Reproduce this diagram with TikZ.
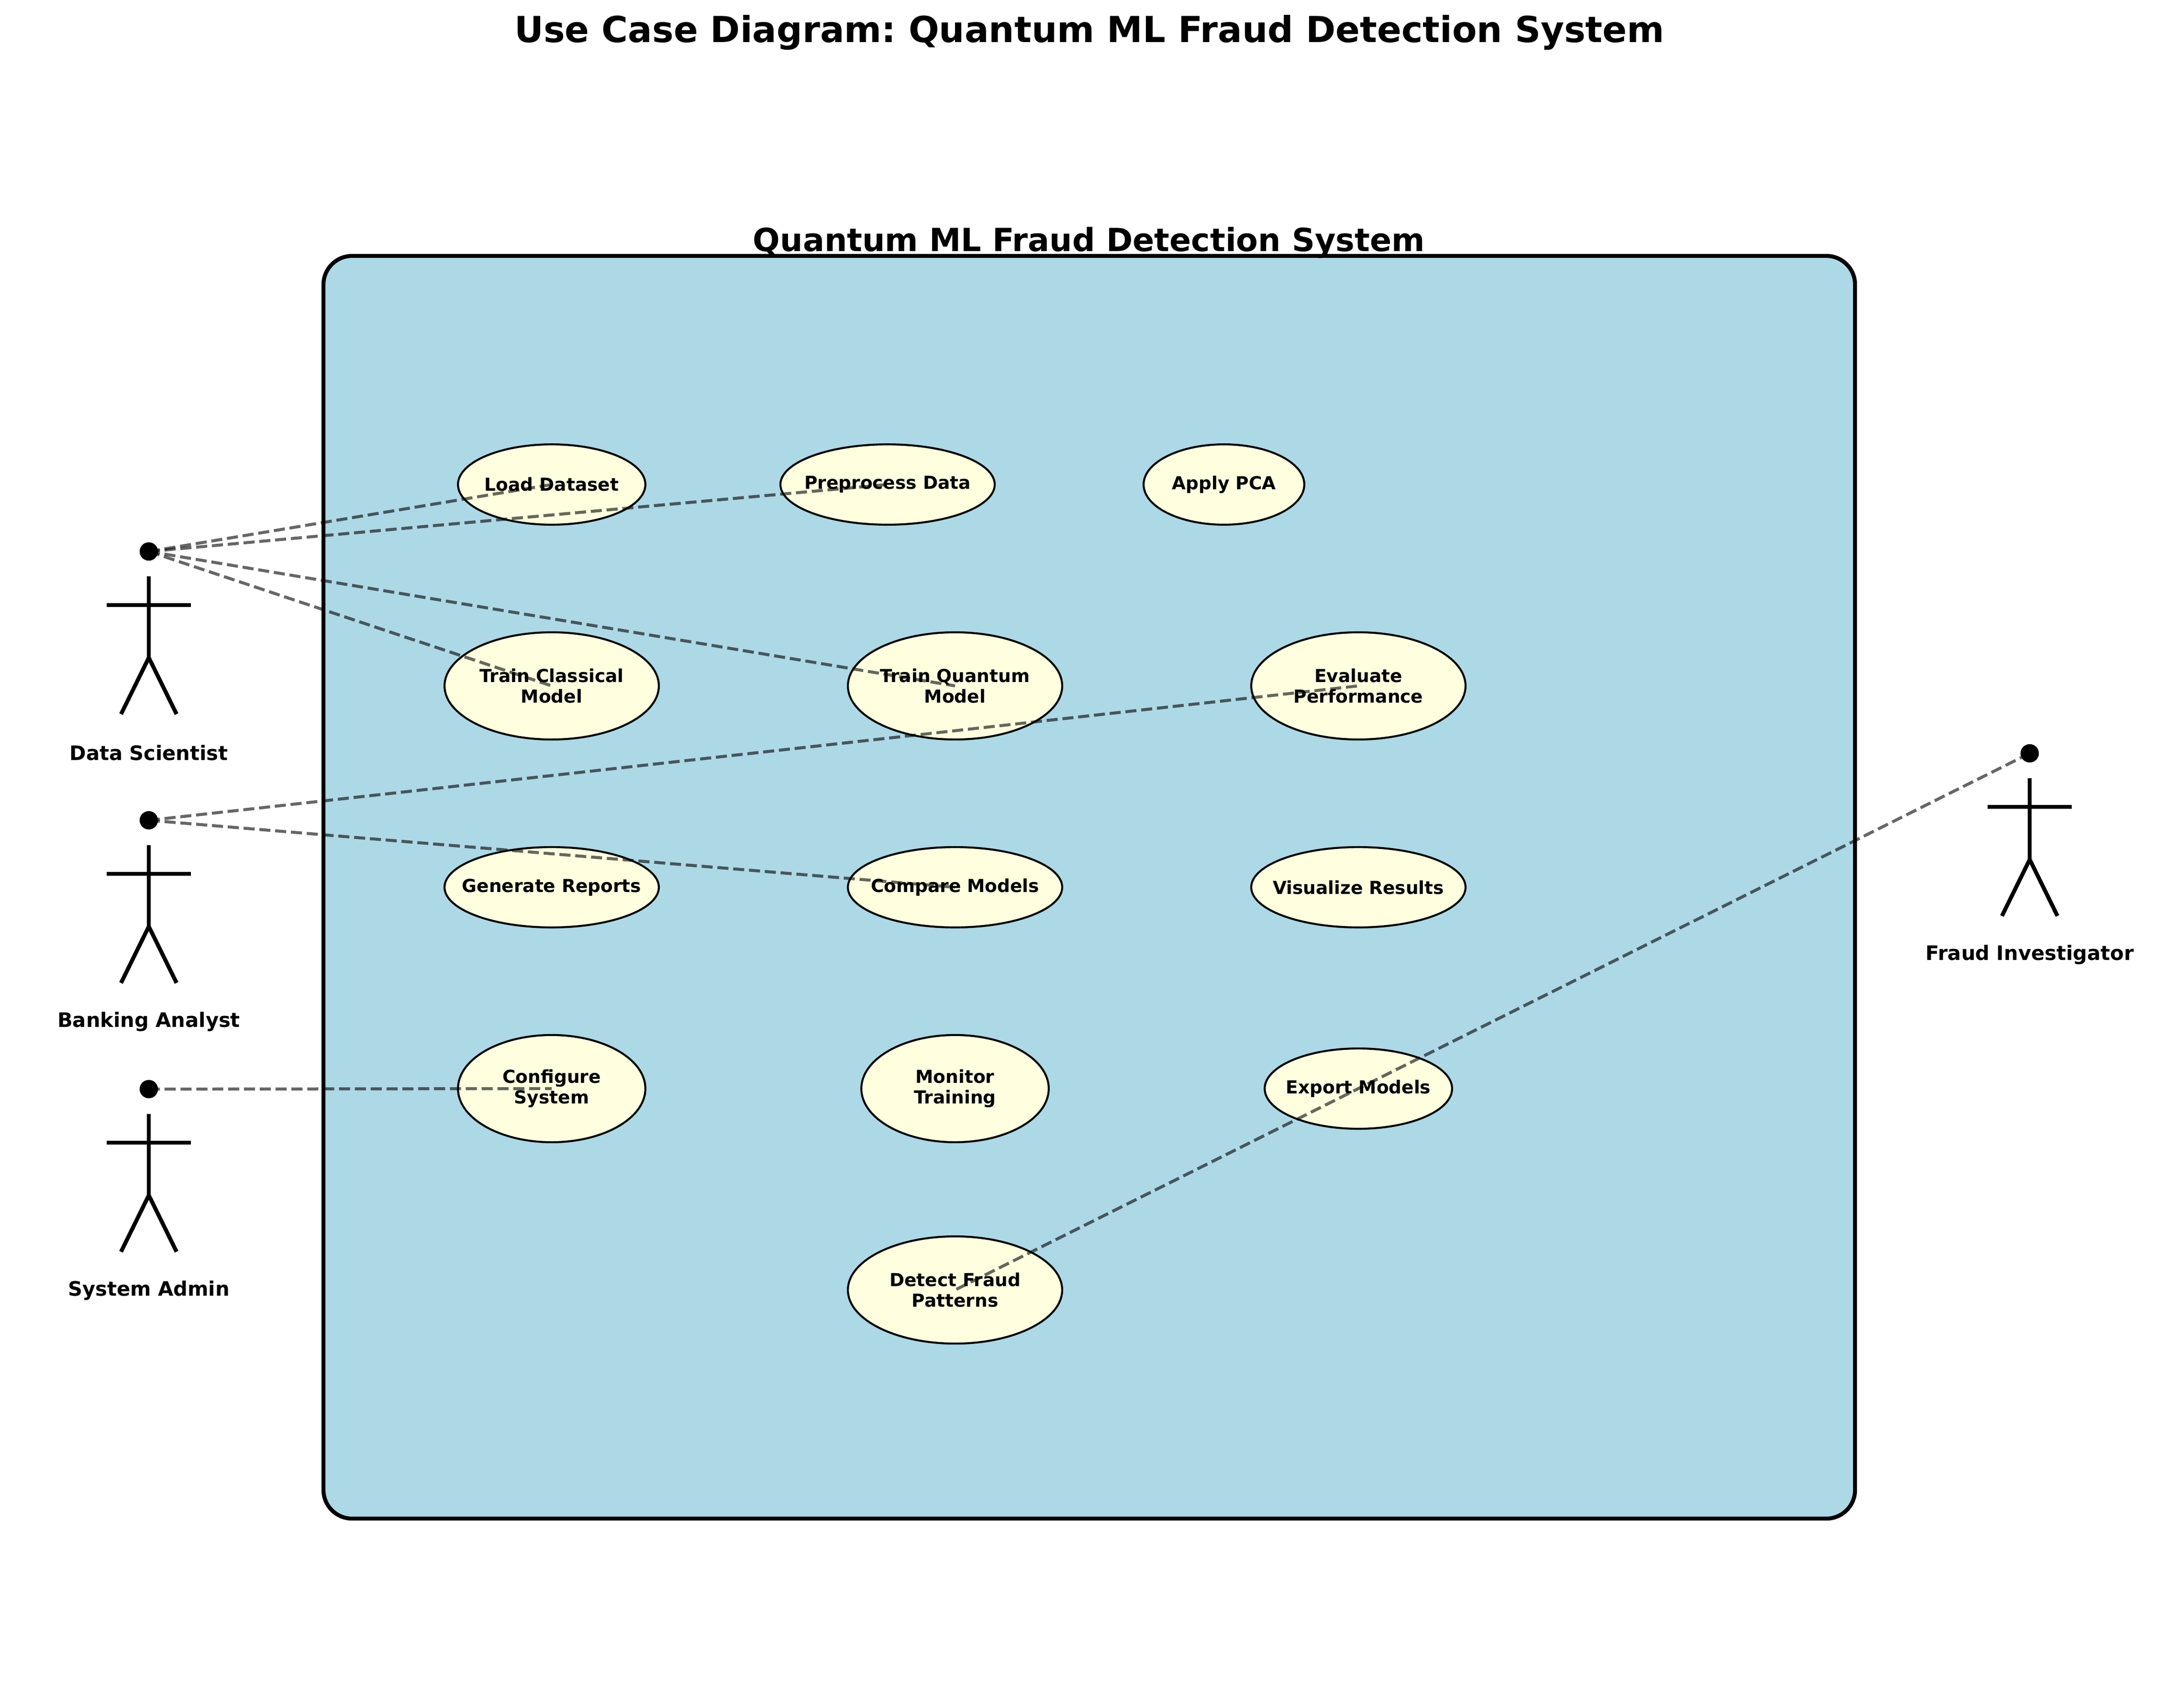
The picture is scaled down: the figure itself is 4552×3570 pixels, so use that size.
\documentclass[tikz,border=0pt]{standalone}
\usepackage{fontspec}
\setmainfont{DejaVu Sans}
\usetikzlibrary{shapes.geometric}
\definecolor{sysblue}{HTML}{ADD8E6}
\definecolor{ucyellow}{HTML}{FFFFE0}
\tikzset{
  sysbox/.style={draw=black,fill=sysblue,line width=2pt,rounded corners=14.4pt},
  uc/.style={ellipse,draw=black,fill=ucyellow,line width=1pt,inner sep=0pt,outer sep=0pt},
  ucw/.style={minimum width=107.5pt},
  ucm/.style={minimum width=94pt},
  ucn/.style={minimum width=80.6pt},
  ucs/.style={minimum height=40.3pt},
  uct/.style={minimum height=53.8pt},
  uctext/.style={font=\fontsize{9}{10.2}\selectfont\bfseries,align=center,inner sep=0pt},
  actortext/.style={font=\fontsize{10}{12}\selectfont\bfseries,inner sep=0pt},
  actorhead/.style={circle,fill=black,inner sep=0pt,minimum size=9.2pt,outer sep=0pt},
  limb/.style={draw=black,line width=2pt},
  assoc/.style={draw=black,opacity=0.6,line width=1.5pt,dash pattern=on 5.55pt off 2.4pt},
}
\newcommand{\actorbody}[3]{%
  \begin{scope}[shift={(#1,#2)}]
    \draw[limb] (0,52) -- (0,222);
    \draw[limb] (-88,112) -- (88,112);
    \draw[limb] (-58,340) -- (0,222) -- (58,340);
  \end{scope}
}
\begin{document}
\frenchspacing
\begin{tikzpicture}[x=0.24pt,y=-0.24pt]
\useasboundingbox (0,0) rectangle (4552,3570);
\draw[sysbox] (676,535) rectangle (3877,3175);
\node[font=\fontsize{16}{19}\selectfont\bfseries,inner sep=0pt] (systitle) at (2276,507) {Quantum ML Fraud Detection System};
\node[font=\fontsize{18}{21}\selectfont\bfseries,inner sep=0pt] (maintitle) at (2277,68) {Use Case Diagram: Quantum ML Fraud Detection System};

% use cases
\node[uc,ucm,ucs] (load) at (1153,1013) {};
\node[uc,ucw,ucs] (prep) at (1855,1013) {};
\node[uc,ucn,ucs] (pca) at (2558,1013) {};
\node[uc,ucw,uct] (tcl) at (1153,1434) {};
\node[uc,ucw,uct] (tqm) at (1996,1434) {};
\node[uc,ucw,uct] (eval) at (2839,1434) {};
\node[uc,ucw,ucs] (rep) at (1153,1855) {};
\node[uc,ucw,ucs] (cmp) at (1996,1855) {};
\node[uc,ucw,ucs] (vis) at (2839,1855) {};
\node[uc,ucm,uct] (cfg) at (1153,2276) {};
\node[uc,ucm,uct] (mon) at (1996,2276) {};
\node[uc,ucm,ucs] (exp) at (2839,2276) {};
\node[uc,ucw,uct] (det) at (1996,2697) {};

% actors
\actorbody{311}{1153}{}
\actorbody{311}{1715}{}
\actorbody{311}{2277}{}
\actorbody{4242}{1575}{}
\coordinate (ds) at (311,1153);
\coordinate (ba) at (311,1715);
\coordinate (sa) at (311,2277);
\coordinate (fi) at (4242,1575);

% associations
\draw[assoc] (ds) -- (load.center);
\draw[assoc] (ds) -- (prep.center);
\draw[assoc] (ds) -- (tcl.center);
\draw[assoc] (ds) -- (tqm.center);
\draw[assoc] (ba) -- (eval.center);
\draw[assoc] (ba) -- (cmp.center);
\draw[assoc] (sa) -- (cfg.center);
\draw[assoc] (fi) -- (det.center);

% heads
\node[actorhead] (dshead) at (ds) {};
\node[actorhead] (bahead) at (ba) {};
\node[actorhead] (sahead) at (sa) {};
\node[actorhead] (fihead) at (fi) {};

% actor labels
\node[actortext] (dsl) at (311,1574) {Data Scientist};
\node[actortext] (bal) at (311,2136) {Banking Analyst};
\node[actortext] (sal) at (311,2698) {System Admin};
\node[actortext] (fil) at (4242,1996) {Fraud Investigator};

% use case labels
\node[uctext] (loadt) at (load) {Load Dataset};
\node[uctext] (prept) at (prep) {Preprocess Data};
\node[uctext] (pcat) at (pca) {Apply PCA};
\node[uctext] (tclt) at (tcl) {Train Classical\\Model};
\node[uctext] (tqmt) at (tqm) {Train Quantum\\Model};
\node[uctext] (evalt) at (eval) {Evaluate\\Performance};
\node[uctext] (rept) at (rep) {Generate Reports};
\node[uctext] (cmpt) at (cmp) {Compare Models};
\node[uctext] (vist) at (vis) {Visualize Results};
\node[uctext] (cfgt) at (cfg) {Configure\\System};
\node[uctext] (mont) at (mon) {Monitor\\Training};
\node[uctext] (expt) at (exp) {Export Models};
\node[uctext] (dett) at (det) {Detect Fraud\\Patterns};
\end{tikzpicture}
\end{document}
